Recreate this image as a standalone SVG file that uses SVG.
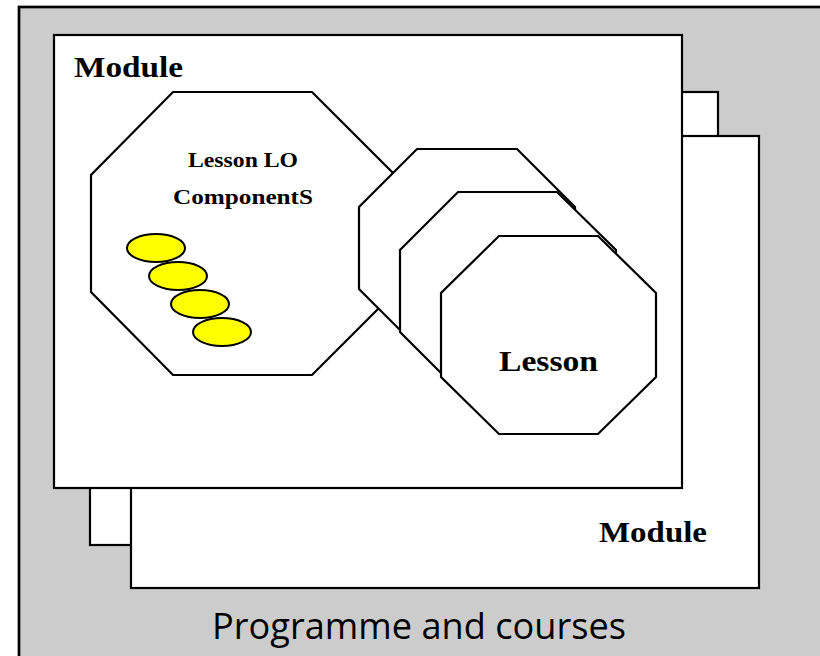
<svg xmlns="http://www.w3.org/2000/svg" width="820" height="656" viewBox="0 0 820 656">
  <style>
    .frame { fill: #cccccc; stroke: #000; stroke-width: 2.7; }
    .sheet { fill: #ffffff; stroke: #000; stroke-width: 2.2; }
    .oct { fill: #ffffff; stroke: #000; stroke-width: 2.2; stroke-linejoin: miter; }
    .comp { fill: #ffff00; stroke: #000; stroke-width: 2; }
    .title { font-family: "Liberation Serif", "DejaVu Serif", serif; font-weight: bold; fill: #000; }
    .caption { font-family: "Open Sans", "Liberation Sans", sans-serif; fill: #000; }
  </style>

  <!-- programme background -->
  <g id="programme">
    <rect class="frame" x="19" y="7" width="820" height="670"/>
    <text class="caption" x="212" y="639" font-size="36" textLength="414" lengthAdjust="spacingAndGlyphs">Programme and courses</text>
  </g>

  <!-- stacked module sheets, back to front -->
  <g id="module-back">
    <rect class="sheet" x="90" y="92" width="628" height="453"/>
  </g>
  <g id="module-middle">
    <rect class="sheet" x="131" y="136" width="628" height="452"/>
    <text class="title" x="599" y="542" font-size="29" textLength="108" lengthAdjust="spacingAndGlyphs">Module</text>
  </g>
  <g id="module-front">
    <rect class="sheet" x="54" y="35" width="628" height="453"/>
    <text class="title" x="74" y="77" font-size="29" textLength="109" lengthAdjust="spacingAndGlyphs">Module</text>
  </g>

  <!-- lesson learning-outcome components -->
  <g id="lesson-lo">
    <polygon class="oct" points="173,92 312,92 395,175 395,292 312,375 173,375 91,292 91,175"/>
    <text class="title" x="188" y="167" font-size="22" textLength="110" lengthAdjust="spacingAndGlyphs">Lesson LO</text>
    <text class="title" x="173" y="204" font-size="22" textLength="140" lengthAdjust="spacingAndGlyphs">ComponentS</text>
    <ellipse class="comp" cx="156" cy="248" rx="29" ry="14"/>
    <ellipse class="comp" cx="178" cy="276" rx="29" ry="14"/>
    <ellipse class="comp" cx="200" cy="304" rx="29" ry="14"/>
    <ellipse class="comp" cx="222" cy="332" rx="29" ry="14"/>
  </g>

  <!-- stacked lessons, back to front -->
  <g id="lesson-3">
    <polygon class="oct" points="417,149 517,149 575,207 575,289 517,347 417,347 359,289 359,207"/>
  </g>
  <g id="lesson-2">
    <polygon class="oct" points="458,192 557,192 616,250 616,332 557,390 458,390 400,332 400,250"/>
  </g>
  <g id="lesson-1">
    <polygon class="oct" points="499,236 598,236 656,293 656,377 598,434 499,434 441,377 441,293"/>
    <text class="title" x="499" y="371" font-size="29" textLength="99" lengthAdjust="spacingAndGlyphs">Lesson</text>
  </g>

  <g id="connectors"/>
</svg>
